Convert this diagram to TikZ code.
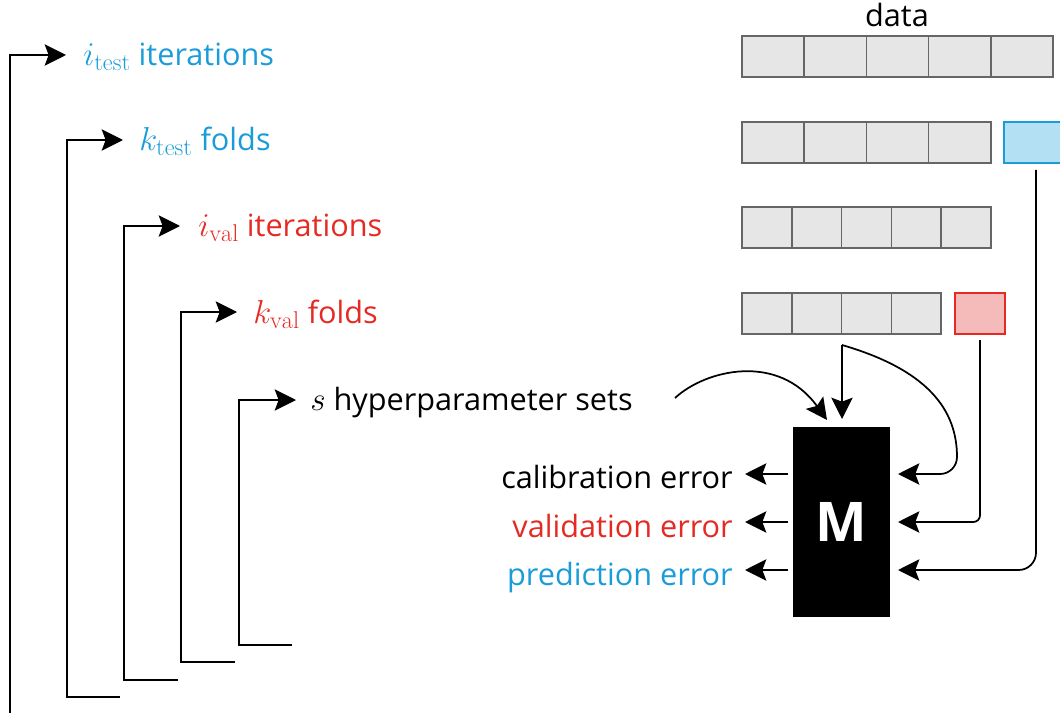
\documentclass[tikz,border=0pt]{standalone}
\usepackage{fontspec}
\newfontfamily\osans{Open Sans}
\usetikzlibrary{arrows.meta}

\definecolor{tblue}{HTML}{1A9CD8}
\definecolor{vred}{HTML}{E52A24}
\definecolor{cellgray}{HTML}{E6E6E6}
\definecolor{cellline}{HTML}{666666}
\definecolor{bluefill}{HTML}{B3E0F2}
\definecolor{redfill}{HTML}{F5BABA}

\newcommand\labfont{\fontsize{23}{27}\selectfont\osans}
% loop variables are set a little larger than the surrounding words
\newcommand\loopvar[2]{{\fontsize{26}{30}\selectfont$#1_{\mathrm{#2}}$}}

\begin{document}
\begin{tikzpicture}[x=0.75pt,y=-0.75pt,
  conn/.style={line width=1.3pt, line join=miter},
  arr/.style={conn, -{Stealth[length=16pt,width=16pt,inset=3pt]}},
  lab/.style={inner sep=0pt, font=\labfont},
  cell/.style={draw=cellline, fill=cellgray, line width=1.1pt, inner sep=0pt, outer sep=0pt,
    anchor=north west, minimum height=30.75pt},
  wide/.style={minimum width=46.65pt},
  narrow/.style={minimum width=37.35pt},
  testcell/.style={cell, draw=tblue, fill=bluefill},
  valcell/.style={cell, draw=vred, fill=redfill},
  model/.style={fill=black, inner sep=0pt, minimum width=72.75pt, minimum height=142.5pt,
    text=white, font=\fontsize{41}{45}\selectfont\osans\bfseries}]
\useasboundingbox (0,0) rectangle (1060,713);

% nested loop labels
\node[lab, anchor=base west, text=tblue] (itest) at (83,66) {\loopvar{i}{test} iterations};
\node[lab, anchor=base west, text=tblue] (ktest) at (139,151) {\loopvar{k}{test} folds};
\node[lab, anchor=base west, text=vred] (ival) at (198,236) {\loopvar{i}{val} iterations};
\node[lab, anchor=base west, text=vred] (kval) at (253,323) {\loopvar{k}{val} folds};
\node[lab, anchor=base west] (hyp) at (310,410) {{\fontsize{26}{30}\selectfont$s$} hyperparameter sets};

% loop brackets
\coordinate (b1) at (10,716);  \coordinate (a1) at (66,55);
\coordinate (b2) at (120,697); \coordinate (k2) at (67,697);  \coordinate (a2) at (123,140);
\coordinate (b3) at (178,680); \coordinate (k3) at (124,680); \coordinate (a3) at (180,226);
\coordinate (b4) at (235,662); \coordinate (k4) at (181,662); \coordinate (a4) at (237,312);
\coordinate (b5) at (292,645); \coordinate (k5) at (239,645); \coordinate (a5) at (296,400);
\draw[arr] (b1) |- (a1);
\draw[arr] (b2) -- (k2) |- (a2);
\draw[arr] (b3) -- (k3) |- (a3);
\draw[arr] (b4) -- (k4) |- (a4);
\draw[arr] (b5) -- (k5) |- (a5);

% data splits
\node[lab, anchor=base] (data) at (897,27) {data};
\foreach \i in {0,...,4}
  \node[cell, wide] (r1c\i) at (742+62.2*\i,36) {};
\foreach \i in {0,...,3}
  \node[cell, wide] (r2c\i) at (742+62.2*\i,122) {};
\node[testcell, wide] (testfold) at (1004,122) {};
\foreach \i in {0,...,4}
  \node[cell, narrow] (r3c\i) at (742+49.8*\i,207) {};
\foreach \i in {0,...,3}
  \node[cell, narrow] (r4c\i) at (742+49.8*\i,293) {};
\node[valcell, narrow] (valfold) at (955,293) {};

% model
\node[model] (M) at (841.5,522) {M};

% inputs to the model
\coordinate (h0) at (675,398);
\coordinate (hin) at (827,420);
\draw[arr] (h0) .. controls (705,370) and (778,352) .. (hin);

\coordinate (tr) at (842,345);
\coordinate (tin) at (842,419);
\draw[arr] (tr) -- (tin);

\coordinate (cin) at (898,474);
\coordinate (cc) at (957,457);
\draw[arr] (tr) .. controls (928,370) and (957,410) .. (cc) to[out=-90,in=0] (940,474) -- (cin);

\coordinate (vs) at (980,340);
\coordinate (vin) at (898,522);
\draw[arr, rounded corners=5pt] (vs) |- (vin);

\coordinate (ps) at (1036,170);
\coordinate (pin) at (898,570);
\draw[arr, rounded corners=13pt] (ps) |- (pin);

% outputs of the model
\coordinate (c1s) at (788,474); \coordinate (c1e) at (745,474);
\coordinate (c2s) at (788,522); \coordinate (c2e) at (745,522);
\coordinate (c3s) at (788,570); \coordinate (c3e) at (745,570);
\draw[arr] (c1s) -- (c1e);
\draw[arr] (c2s) -- (c2e);
\draw[arr] (c3s) -- (c3e);
\node[lab, anchor=base east] (calerr) at (733,488) {calibration error};
\node[lab, anchor=base east, text=vred] (valerr) at (733,537) {validation error};
\node[lab, anchor=base east, text=tblue] (prederr) at (733,585) {prediction error};
\end{tikzpicture}
\end{document}
